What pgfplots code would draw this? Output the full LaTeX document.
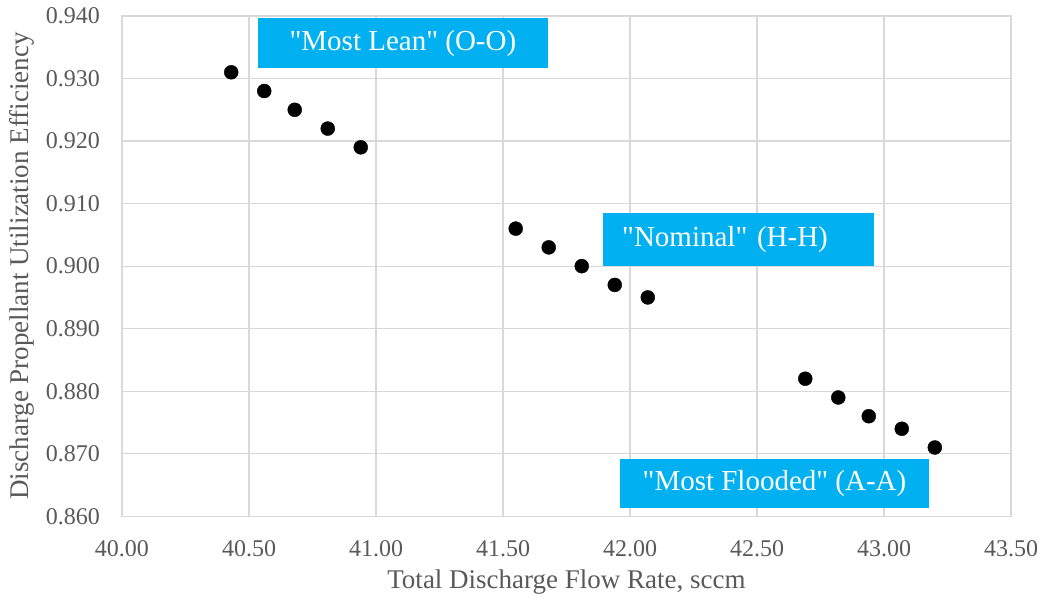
\documentclass[border=0pt]{standalone}
\usepackage{fontspec}
\setmainfont{Liberation Serif}
\newfontfamily\boxfont{Liberation Serif}[Ligatures=ResetAll]
\usepackage{pgfplots}
\pgfplotsset{compat=1.18}
\definecolor{gridc}{HTML}{D9D9D9}
\definecolor{tickc}{HTML}{595959}
\definecolor{boxc}{HTML}{00B0F0}
\begin{document}
\begin{tikzpicture}
\path[use as bounding box] (-122pt,-82pt) rectangle (921pt,516.3pt);
\begin{axis}[
  scale only axis,
  width=889pt, height=500.3pt,
  xmin=40, xmax=43.5, ymin=0.86, ymax=0.94,
  xtick={40,40.5,...,43.5},
  ytick={0.86,0.87,...,0.941},
  grid=major,
  major grid style={gridc, line width=1.2pt},
  axis line style={gridc, line width=1.2pt},
  major tick length=0pt,
  /pgf/number format/assume math mode=true,
  xticklabel style={/pgf/number format/.cd, fixed, fixed zerofill, precision=2, /tikz/.cd, font=\fontsize{24}{28}\selectfont, text=tickc, inner sep=0pt, anchor=base, yshift=-40pt},
  yticklabel style={/pgf/number format/.cd, fixed, fixed zerofill, precision=3, /tikz/.cd, font=\fontsize{24}{28}\selectfont, text=tickc, inner sep=0pt, anchor=east, xshift=-22pt},
  xlabel={Total Discharge Flow Rate, sccm},
  ylabel={Discharge Propellant Utilization Efficiency},
  xlabel style={at={(axis description cs:0.5,0)}, anchor=center, yshift=-66pt, font=\fontsize{27}{32}\selectfont, text=tickc},
  ylabel style={at={(axis description cs:-0.1125,0.5)}, anchor=center, font=\fontsize{27}{32}\selectfont, text=tickc},
  clip=false,
]
\addplot[only marks, mark=*, mark size=7pt, black] coordinates {
(40.43,0.931) (40.56,0.928) (40.68,0.925) (40.81,0.922) (40.94,0.919)
(41.55,0.906) (41.68,0.903) (41.81,0.900) (41.94,0.897) (42.07,0.895)
(42.69,0.882) (42.82,0.879) (42.94,0.876) (43.07,0.874) (43.20,0.871)
};
\node[fill=boxc, text=white, font=\boxfont\fontsize{29}{34}\selectfont, minimum width=290pt, minimum height=50pt, inner sep=0pt, anchor=center] at (axis cs:41.106,0.93563) {"Most Lean" (O-O)};
\node[fill=boxc, text=white, font=\boxfont\fontsize{29}{34}\selectfont, text width=233pt, minimum height=53pt, inner xsep=19pt, inner ysep=0pt, align=left, anchor=center] at (axis cs:42.428,0.90427) {"Nominal" (H-H)};
\node[fill=boxc, text=white, font=\boxfont\fontsize{29}{34}\selectfont, minimum width=309pt, minimum height=49pt, inner sep=0pt, anchor=center] at (axis cs:42.569,0.86523) {"Most Flooded" (A-A)};
\end{axis}
\end{tikzpicture}
\end{document}
